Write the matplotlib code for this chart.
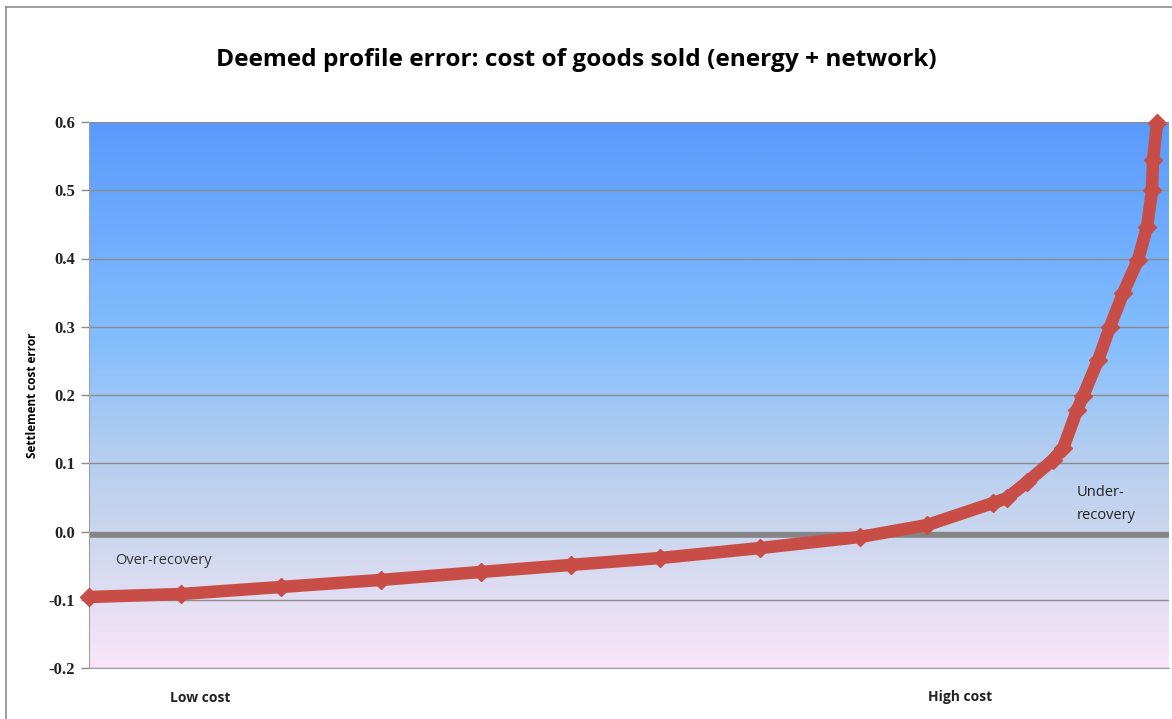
import numpy as np
import matplotlib
matplotlib.use("Agg")
import matplotlib.pyplot as plt
from matplotlib.colors import LinearSegmentedColormap
from matplotlib.lines import Line2D

# customers ranked from low cost to high cost (rank position) and their error
rank = [0, 92, 192, 292, 392, 482, 572, 672, 772, 839, 905, 919, 939, 965,
        975, 989, 995, 1010, 1022, 1035, 1050, 1059, 1064, 1065, 1069]
error = [-0.096, -0.0916, -0.0813, -0.071, -0.0593, -0.049, -0.0388, -0.0242,
         -0.008, 0.0095, 0.0418, 0.049, 0.0725, 0.1048, 0.122, 0.178, 0.1985,
         0.251, 0.30, 0.349, 0.398, 0.446, 0.50, 0.544, 0.598]

zero_level = -0.005
yticks = [-0.2, -0.1, 0.0, 0.1, 0.2, 0.3, 0.4, 0.5, 0.6]

fig = plt.figure(figsize=(11.72, 7.19), dpi=100)
ax = fig.add_axes([89/1172, 1-668/719, 1080/1172, 546/719])

# fondo degradado
bg = LinearSegmentedColormap.from_list("bg", [
    (0.0, "#fae6f8"), (0.25, "#cad6ee"), (0.4, "#b3cdf0"),
    (0.6, "#84befd"), (1.0, "#5a9afd")])
ax.imshow(np.linspace(0, 1, 256).reshape(-1, 1), cmap=bg, aspect="auto",
          extent=[0, 1081, -0.2, 0.6], origin="lower", zorder=0)

ax.set_xlim(0, 1081)
ax.set_ylim(-0.2, 0.6)
ax.set_yticks(yticks)
ax.set_yticklabels(["%.1f" % t for t in yticks], family="Liberation Serif",
                   fontsize=12, fontweight="bold", color="#222222")
ax.set_xticks([])
ax.tick_params(axis="y", length=6, color="#8c8c8c", width=1, pad=4)
for t in yticks:
    ax.axhline(t, color="#8c8c8c", lw=1, zorder=1)
for s in ["top", "right"]:
    ax.spines[s].set_visible(False)
ax.spines["left"].set_color("#a0a0a0")
ax.spines["bottom"].set_color("#a0a0a0")

ax.axhline(zero_level, color="#858585", lw=4, zorder=2)

ax.plot(rank, error, color="#c84d47", lw=9, marker="D", ms=9, mec="#c84d47",
        solid_capstyle="round", solid_joinstyle="round", zorder=3, clip_on=False)

ax.text(26, -0.043, "Over-recovery", fontsize=10.5, family="Open Sans",
        color="#333333", va="center")
ax.text(989, 0.04, "Under-\nrecovery", fontsize=10.5, family="Open Sans",
        color="#222222", va="center", linespacing=1.75)

ax.set_ylabel("Settlement cost error", family="Open Sans", fontsize=8.5,
              fontweight="bold", labelpad=7)

fig.text(576/1172, 1-60/719, "Deemed profile error: cost of goods sold (energy + network)",
         family="Open Sans", fontsize=17.6, fontweight="bold", ha="center", va="center")
fig.text(200/1172, 1-698/719, "Low cost", family="Open Sans", fontsize=10,
         fontweight="bold", ha="center", va="center", color="#222222")
fig.text(960/1172, 1-697/719, "High cost", family="Open Sans", fontsize=10,
         fontweight="bold", ha="center", va="center", color="#222222")

# marco exterior
fig.add_artist(Line2D([6/1172, 6/1172], [0, 1-7/719], color="#8c8c8c", lw=1.2))
fig.add_artist(Line2D([6/1172, 1], [1-7/719, 1-7/719], color="#8c8c8c", lw=1.2))

fig.savefig("out.png", dpi=100)
